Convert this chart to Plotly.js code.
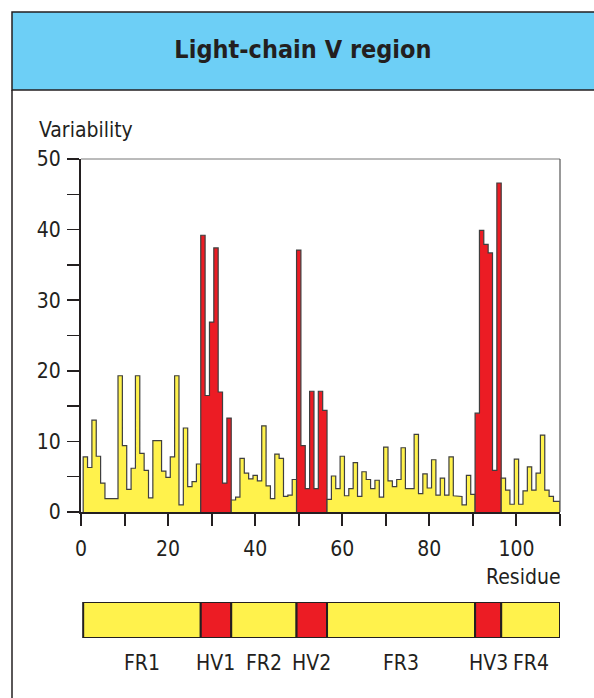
<!DOCTYPE html>
<html><head><meta charset="utf-8">
<script src="https://cdn.plot.ly/plotly-3.0.1.min.js"></script>
<style>html,body{margin:0;padding:0;background:#fff;} #chart{width:594px;height:698px;}</style>
</head><body><div id="chart"></div>
<script>
// ---------- data ----------
const chartTitle = 'Light-chain V region';
const yTitle = 'Variability';
const xTitle = 'Residue';
const firstResidue = 1;
const variability = [
  7.8, 6.3, 13.0, 7.9, 4.1, 1.9, 1.9, 1.9, 19.3, 9.4,
  3.2, 6.2, 19.3, 8.3, 5.9, 2.0, 10.1, 10.1, 5.8, 4.9,
  7.8, 19.3, 1.0, 11.9, 3.6, 4.3, 6.8, 39.2, 16.5, 26.9,
  37.4, 17.0, 4.1, 13.3, 1.7, 2.1, 7.6, 5.5, 4.7, 5.2,
  4.4, 12.2, 3.7, 1.9, 8.2, 7.6, 2.2, 2.4, 4.6, 37.1,
  9.4, 3.3, 17.1, 3.3, 17.1, 14.4, 1.8, 5.1, 3.3, 7.9,
  2.3, 3.3, 7.0, 2.2, 5.7, 4.6, 3.3, 4.5, 2.1, 9.2,
  4.4, 3.6, 4.6, 9.1, 3.3, 3.3, 11.0, 2.6, 5.4, 3.4,
  7.4, 2.4, 4.8, 2.4, 7.8, 2.3, 2.2, 1.0, 5.2, 2.5,
  14.0, 39.9, 37.9, 36.7, 5.9, 46.6, 4.8, 3.1, 1.1, 7.5,
  1.1, 3.0, 6.4, 3.1, 5.5, 10.9, 3.1, 2.2, 1.5
];
const regionNames = ['FR1', 'HV1', 'FR2', 'HV2', 'FR3', 'HV3', 'FR4'];
const regionFirst = [1, 28, 35, 50, 57, 91, 97];
const regionLast  = [27, 34, 49, 56, 90, 96, 109];
const regionKind  = ['FR', 'HV', 'FR', 'HV', 'FR', 'HV', 'FR'];
const xTickVals = [0, 10, 20, 30, 40, 50, 60, 70, 80, 90, 100, 110];
const xTickText = ['0', '', '20', '', '40', '', '60', '', '80', '', '100', ''];
const yTickVals = [0, 5, 10, 15, 20, 25, 30, 35, 40, 45, 50];
const yTickText = ['0', '', '10', '', '20', '', '30', '', '40', '', '50'];

// ---------- style ----------
const W = 594, H = 698;
const X_MIN = 0, X_MAX = 110;
const FONT = '"Liberation Sans Narrow", "Arial Narrow", "DejaVu Sans Condensed", sans-serif';
const INK = '#231f20';
const kindColor = {FR: '#fff24c', HV: '#ec1c24'};
const px = v => v / W;
const py = v => (H - v) / H;

// ---------- traces ----------
const traces = [];
const lefts = [], rights = [];
regionNames.forEach((name, k) => {
  const a = regionFirst[k], b = regionLast[k];
  const left = Math.max(X_MIN, a - 0.5);
  const right = (k === regionNames.length - 1) ? X_MAX : Math.min(X_MAX, b + 0.5);
  lefts.push(left); rights.push(right);
  const xs = [left], ys = [0];
  for (let r = a; r <= b; r++) {
    const v = variability[r - firstResidue];
    const l = (r === a) ? left : r - 0.5;
    const rr = (r === b) ? right : r + 0.5;
    xs.push(l, rr); ys.push(v, v);
  }
  xs.push(right); ys.push(0);
  traces.push({
    type: 'scatter', mode: 'lines', x: xs, y: ys,
    fill: 'toself', fillcolor: kindColor[regionKind[k]],
    line: {color: '#3f3f3f', width: 1.2},
    xaxis: 'x', yaxis: 'y', hoverinfo: 'skip', showlegend: false, name: name
  });
});

// segment bar under the chart
traces.push({
  type: 'bar', orientation: 'h',
  y: regionNames.map(() => 0),
  base: lefts,
  x: lefts.map((l, k) => rights[k] - l),
  width: 1,
  marker: {color: regionKind.map(k => kindColor[k]), line: {color: INK, width: 2}},
  xaxis: 'x2', yaxis: 'y2', hoverinfo: 'skip', showlegend: false
});

const xDomain = [px(81), px(560)];
const annotations = [
  {text: yTitle, xref: 'paper', yref: 'paper', x: px(37), y: py(130), xanchor: 'left', yanchor: 'middle',
   showarrow: false, font: {family: FONT, size: 21, color: INK}},
  {text: xTitle, xref: 'paper', yref: 'paper', x: px(563), y: py(577), xanchor: 'right', yanchor: 'middle',
   showarrow: false, font: {family: FONT, size: 21, color: INK}}
];
regionNames.forEach((name, k) => {
  annotations.push({
    text: name, xref: 'x2', yref: 'paper', x: (lefts[k] + rights[k]) / 2, y: py(663),
    xanchor: 'center', yanchor: 'middle', showarrow: false,
    font: {family: FONT, size: 21, color: INK}
  });
});

const layout = {
  width: W, height: H,
  margin: {l: 0, r: 0, t: 0, b: 0},
  paper_bgcolor: '#ffffff', plot_bgcolor: 'rgba(0,0,0,0)',
  showlegend: false,
  title: {text: '<b>' + chartTitle + '</b>', x: 0.51, xref: 'paper', y: py(49), yref: 'paper',
          xanchor: 'center', yanchor: 'middle', font: {family: FONT, size: 25, color: INK}},
  xaxis: {
    domain: xDomain, range: [X_MIN, X_MAX], anchor: 'y',
    tickmode: 'array', tickvals: xTickVals, ticktext: xTickText,
    ticks: 'outside', ticklen: 12, tickwidth: 2, tickcolor: INK,
    showline: true, linecolor: INK, linewidth: 2,
    showgrid: false, zeroline: false, fixedrange: true,
    tickfont: {family: FONT, size: 21, color: INK}, ticklabelstandoff: 5
  },
  yaxis: {
    domain: [py(512), py(159)], range: [0, 50], anchor: 'x',
    tickmode: 'array', tickvals: yTickVals, ticktext: yTickText,
    ticks: 'outside', ticklen: 12, tickwidth: 1.5, tickcolor: INK,
    showline: true, linecolor: INK, linewidth: 2,
    showgrid: false, zeroline: false, fixedrange: true,
    tickfont: {family: FONT, size: 21, color: INK}, ticklabelstandoff: 2
  },
  xaxis2: {domain: xDomain, range: [X_MIN, X_MAX], anchor: 'y2', visible: false, fixedrange: true},
  yaxis2: {domain: [py(638), py(602)], range: [-0.5, 0.5], anchor: 'x2', visible: false, fixedrange: true},
  shapes: [
    {type: 'rect', xref: 'paper', yref: 'paper', x0: px(12), x1: 1.05, y0: py(90), y1: py(12),
     fillcolor: '#6dcff6', line: {color: INK, width: 1.5}, layer: 'below'},
    {type: 'line', xref: 'paper', yref: 'paper', x0: px(12), x1: px(12), y0: -0.01, y1: py(90),
     line: {color: INK, width: 1.5}, layer: 'below'},
    {type: 'line', xref: 'x domain', yref: 'y domain', x0: 0, x1: 1, y0: 1, y1: 1,
     line: {color: '#777777', width: 1}},
    {type: 'line', xref: 'x domain', yref: 'y domain', x0: 1, x1: 1, y0: 0, y1: 1,
     line: {color: '#555555', width: 1.2}}
  ],
  annotations: annotations
};

Plotly.newPlot('chart', traces, layout, {staticPlot: true, displayModeBar: false});
</script>
</body></html>
